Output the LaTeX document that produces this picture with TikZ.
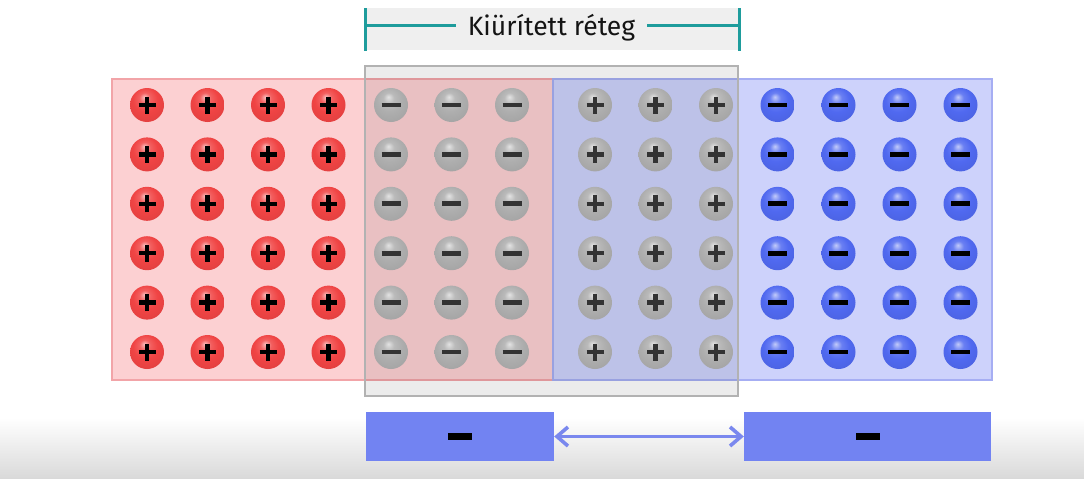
\documentclass[tikz,border=0pt]{standalone}
\usepackage{fontspec}
\setmainfont{Fira Sans}
\usetikzlibrary{arrows.meta}

% colours
\definecolor{pinkfill}{HTML}{FCD0D2}
\definecolor{pinkline}{HTML}{F2A4A8}
\definecolor{bluefill}{HTML}{CDD2FB}
\definecolor{blueline}{HTML}{A6AEF3}
\definecolor{greyline}{HTML}{B2B2B2}
\definecolor{headbg}{HTML}{EFEFEF}
\definecolor{teal}{HTML}{1E9C9C}
\definecolor{boxblue}{HTML}{7283F2}
\definecolor{arrowblue}{HTML}{7A88EE}
\definecolor{redball}{HTML}{F04444}
\definecolor{greyball}{HTML}{AEAEAE}
\definecolor{blueball}{HTML}{5069F0}
\definecolor{darksign}{HTML}{333333}

% soft sphere shading, tinted by the colour "ballc"
\colorlet{ballc}{red}
\pgfdeclareradialshading[ballc]{softball}{\pgfpoint{-4bp}{12bp}}{%
  color(0bp)=(ballc!35!white);
  color(8bp)=(ballc!85!white);
  color(18bp)=(ballc);
  color(32bp)=(ballc!94!black);
  color(42bp)=(ballc!84!black);
  color(50bp)=(ballc!78!black)}

\tikzset{
  ion/.style={circle, minimum size=34pt, inner sep=0pt, shading=softball},
  plussign/.style={path picture={
      \draw[line width=4.4pt, #1]
        ([xshift=-8.5pt]path picture bounding box.center) --
        ([xshift=8.5pt]path picture bounding box.center);
      \draw[line width=4.4pt, #1]
        ([yshift=-8.5pt]path picture bounding box.center) --
        ([yshift=8.5pt]path picture bounding box.center);}},
  minussign/.style={path picture={
      \draw[line width=4.8pt, #1]
        ([xshift=-9.5pt]path picture bounding box.center) --
        ([xshift=9.5pt]path picture bounding box.center);}},
  chargebox/.style={draw=none, fill=boxblue, minimum height=49pt, inner sep=0pt,
    path picture={
      \fill[black] ([xshift=-12pt,yshift=-3.5pt]path picture bounding box.center)
        rectangle ([xshift=12pt,yshift=3.5pt]path picture bounding box.center);}},
  bracket/.style={teal, line width=3pt},
}

\begin{document}
\begin{tikzpicture}[x=1pt, y=-1pt]
  \useasboundingbox (0,0) rectangle (1084,479);
  \fill[white] (0,0) rectangle (1084,479);

  % soft grey floor along the bottom edge
  \shade[top color=white, bottom color=black!15] (0,418) rectangle (1084,479);

  % title bar with bracket
  \fill[headbg] (365,8) rectangle (739,50);
  \node[font=\fontsize{26.5}{31}\selectfont, text=black!92, inner sep=0pt]
    (title) at (551.5,27.5) {Kiürített réteg};
  \coordinate (bl) at (365,25);
  \coordinate (br) at (739,25);
  \draw[bracket] (365,8) -- (365,51);
  \draw[bracket] (739,8) -- (739,51);
  \draw[bracket] (bl) -- ([xshift=-12pt]bl -| title.west);
  \draw[bracket] ([xshift=12pt]br -| title.east) -- (br);

  % p and n regions
  \draw[fill=pinkfill, draw=pinkline, line width=1.3pt] (112,79) rectangle (553,380);
  \draw[fill=bluefill, draw=blueline, line width=1.3pt] (553,79) rectangle (992,380);

  % depletion layer overlay
  \fill[black, fill opacity=0.075] (365,66) rectangle (738,396);
  \draw[greyline, line width=1.6pt] (365,66) rectangle (738,396);

  % ions
  \foreach \j in {0,...,5} {
    \pgfmathsetmacro{\yy}{105+49.4*\j}
    \colorlet{ballc}{redball}
    \foreach \x [count=\i] in {147,207.5,268,328.5}
      \node[ion, plussign=black] (p\i-\j) at (\x,\yy) {};
    \colorlet{ballc}{greyball}
    \foreach \x [count=\i] in {391,451.5,512}
      \node[ion, minussign=darksign] (gm\i-\j) at (\x,\yy) {};
    \foreach \x [count=\i] in {595,655.5,716}
      \node[ion, plussign=darksign] (gp\i-\j) at (\x,\yy) {};
    \colorlet{ballc}{blueball}
    \foreach \x [count=\i] in {777.5,838.5,899.5,960.5}
      \node[ion, minussign=black] (n\i-\j) at (\x,\yy) {};
  }

  % charge boxes below with the double arrow
  \node[chargebox, minimum width=188pt] (lb) at (460,436.5) {};
  \node[chargebox, minimum width=247pt] (rb) at (867.5,436.5) {};
  \draw[arrowblue, line width=3.6pt,
        {Straight Barb[length=11pt, width=19pt]}-{Straight Barb[length=11pt, width=19pt]}]
    (lb.east) -- (rb.west);
\end{tikzpicture}
\end{document}
